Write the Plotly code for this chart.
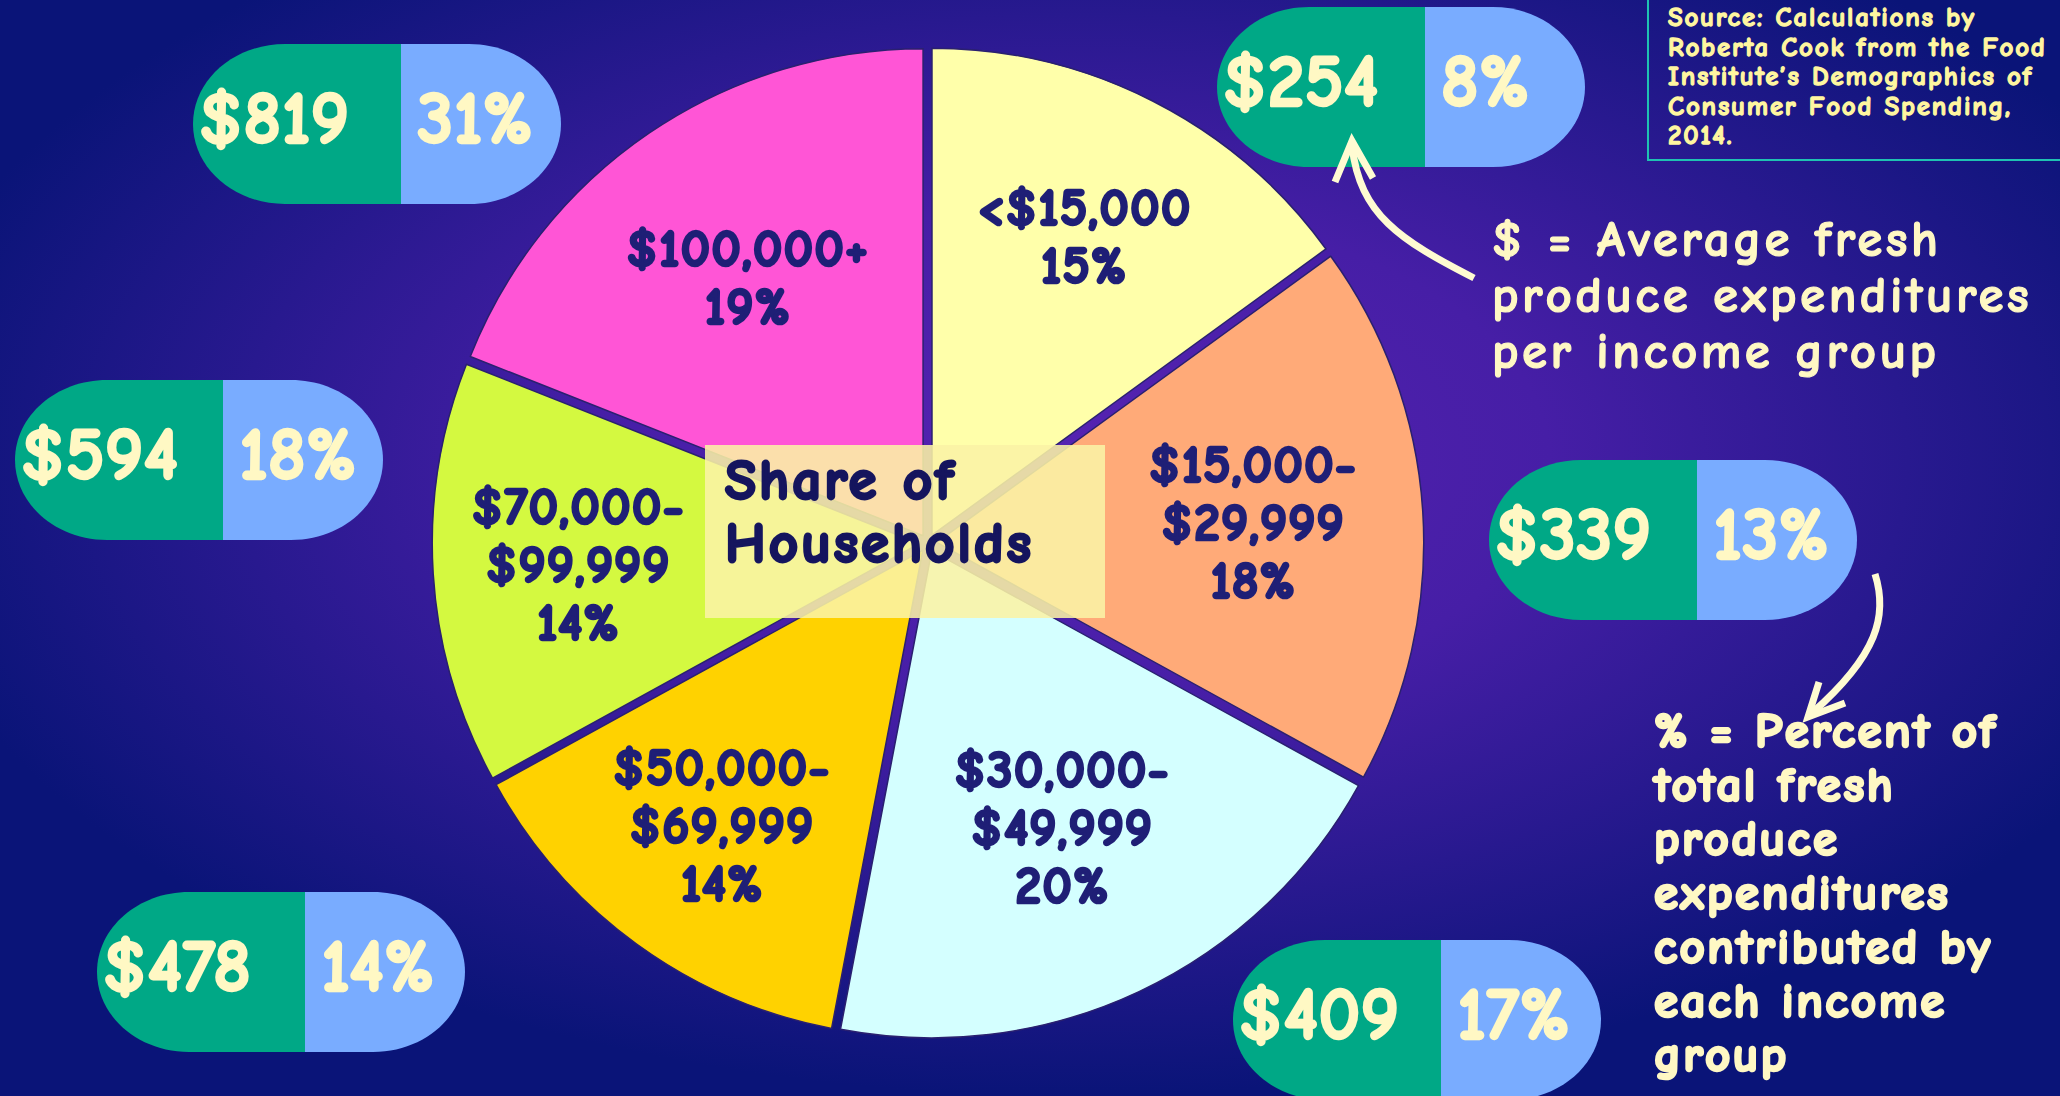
import base64
import plotly.graph_objects as go

# ---------------- data ----------------
income_groups = ["<$15,000", "$15,000-$29,999", "$30,000-$49,999",
                 "$50,000-$69,999", "$70,000-$99,999", "$100,000+"]
slice_lines = [["&lt;$15,000"], ["$15,000-", "$29,999"], ["$30,000-", "$49,999"],
               ["$50,000-", "$69,999"], ["$70,000-", "$99,999"], ["$100,000+"]]
share_households = [15, 18, 20, 14, 14, 19]          # % of households
avg_spend = [254, 339, 409, 478, 594, 819]           # $ fresh produce / household
share_spend = [8, 13, 17, 14, 18, 31]                # % of total fresh produce spend

dollar_note = ["$ = Average fresh", "produce expenditures", "per income group"]
pct_note = ["% = Percent of", "total fresh", "produce", "expenditures",
            "contributed by", "each income", "group"]
source_note = ["Source: Calculations by", "Roberta Cook from the Food",
               "Institute\u2019s Demographics of", "Consumer Food Spending,", "2014."]
center_title = ["Share of", "Households"]

# ---------------- styling / layout ----------------
W, H = 2060, 1096
FONT = "Comic Sans MS, Comic Neue, Noto Sans, sans-serif"
CREAM = "#fff8c4"
NAVY_TXT = "#1f1f76"
slice_colors = ["#ffffaa", "#ffaa78", "#d4ffff", "#ffd200", "#d4f940", "#ff55d6"]

# pill top-left corners (pixels), same order as income_groups
pill_pos = [(1217, 7), (1489, 460), (1233, 940), (97, 892), (15, 380), (193, 44)]
PW, PH, PSPLIT = 368, 160, 208
RX, RY = 92, 80
K = 0.5523


def span_lines(lines, size, color, stroke, ls=0):
    st = (f"font-size:{size}px;stroke:{color};stroke-width:{stroke}px;"
          f"stroke-linejoin:round;letter-spacing:{ls}px")
    return "<br>".join(f"<span style='{st}'>{t}</span>" for t in lines)


# background radial gradient as an SVG image
svg = ('<svg xmlns="http://www.w3.org/2000/svg" width="2060" height="1096" '
       'viewBox="0 0 2060 1096" preserveAspectRatio="none"><defs>'
       '<radialGradient id="g" cx="0.52" cy="0.42" r="0.58">'
       '<stop offset="0" stop-color="#5623b2"/>'
       '<stop offset="0.4" stop-color="#461ea6"/>'
       '<stop offset="1" stop-color="#0a1478"/>'
       '</radialGradient></defs>'
       '<rect x="0" y="0" width="2060" height="1096" fill="url(#g)"/></svg>')
bg_src = "data:image/svg+xml;base64," + base64.b64encode(svg.encode()).decode()

# pie geometry
PCX, PCY, PR, PULL = 928, 543, 487, 0.018
D = 2 * PR * (1 + PULL)

fig = go.Figure()

PIE_SP = 58
fig.add_trace(go.Pie(
    values=share_households,
    labels=income_groups,
    text=[span_lines(l + [f"{v}%"], 52, NAVY_TXT, 2.6, 1)
          for l, v in zip(slice_lines, share_households)],
    textinfo="text",
    textposition="inside",
    insidetextorientation="horizontal",
    textfont=dict(family=FONT, size=PIE_SP / 1.3, color=NAVY_TXT, weight="bold"),
    marker=dict(colors=slice_colors, line=dict(color="#2a2070", width=1.5)),
    pull=[PULL] * 6,
    sort=False,
    direction="clockwise",
    rotation=0,
    hoverinfo="skip",
    showlegend=False,
    domain=dict(x=[(PCX - D / 2) / W, (PCX + D / 2) / W],
                y=[(H - PCY - D / 2) / H, (H - PCY + D / 2) / H]),
))

# pill text (amount and share of spending)
amt_x = [x + 6 for x, y in pill_pos]
pct_x = [x + PSPLIT + 16 for x, y in pill_pos]
mid_y = [y + PH / 2 for x, y in pill_pos]
fig.add_trace(go.Scatter(
    x=amt_x + pct_x, y=mid_y + mid_y, mode="text",
    text=[span_lines([f"${v}"], 74, CREAM, 2.4) for v in avg_spend]
         + [span_lines([f"{v}%"], 74, CREAM, 2.4) for v in share_spend],
    textposition="middle right",
    textfont=dict(family=FONT, size=74, color=CREAM, weight="bold"),
    hoverinfo="skip", showlegend=False, cliponaxis=False,
))

shapes = []
for (L, T) in pill_pos:
    B, S, R, M = T + PH, L + PSPLIT, L + PW, T + PH / 2
    left = (f"M {L+RX},{T} L {S},{T} L {S},{B} L {L+RX},{B} "
            f"C {L+RX-K*RX},{B} {L},{M+K*RY} {L},{M} "
            f"C {L},{M-K*RY} {L+RX-K*RX},{T} {L+RX},{T} Z")
    right = (f"M {S},{T} L {R-RX},{T} "
             f"C {R-RX+K*RX},{T} {R},{M-K*RY} {R},{M} "
             f"C {R},{M+K*RY} {R-RX+K*RX},{B} {R-RX},{B} L {S},{B} Z")
    shapes.append(dict(type="path", path=left, xref="x", yref="y", layer="below",
                       fillcolor="#00a886", line=dict(width=0)))
    shapes.append(dict(type="path", path=right, xref="x", yref="y", layer="below",
                       fillcolor="#79acff", line=dict(width=0)))

# centre label box
shapes.append(dict(type="rect", xref="x", yref="y", x0=705, x1=1105, y0=445, y1=618,
                   fillcolor="rgba(250,243,165,0.88)", line=dict(width=0), layer="above"))
# source box
shapes.append(dict(type="rect", xref="x", yref="y", x0=1648, x1=2075, y0=-10, y1=160,
                   fillcolor="rgba(0,0,0,0)", line=dict(color="#1fc2b2", width=2), layer="above"))
# arrows
ARW = dict(color="#fffbd2", width=7)
shapes.append(dict(type="path", xref="x", yref="y", layer="above", line=ARW,
                   path="M 1474,278 C 1400,240 1360,215 1352,146"))
shapes.append(dict(type="path", xref="x", yref="y", layer="above", line=ARW,
                   path="M 1335,182 L 1352,141 L 1373,178"))
shapes.append(dict(type="path", xref="x", yref="y", layer="above", line=ARW,
                   path="M 1875,574 C 1888,615 1878,655 1812,713"))
shapes.append(dict(type="path", xref="x", yref="y", layer="above", line=ARW,
                   path="M 1819,682 L 1808,717 L 1845,703"))

annotations = []


def block(lines, x, ycenter, spacing, size, color, stroke, ls):
    annotations.append(dict(
        text=span_lines(lines, size, color, stroke, ls), x=x, y=ycenter,
        xref="x", yref="y", xanchor="left", yanchor="middle", align="left",
        showarrow=False,
        font=dict(family=FONT, size=spacing / 1.3, color=color, weight="bold")))


block(center_title, 723, 512, 63, 57, "#15155e", 2.8, 3)
block(dollar_note, 1490, 295, 56, 51, CREAM, 1.2, 3.5)
block(pct_note, 1651, 893, 54, 49, CREAM, 2.6, 2.5)
block(source_note, 1666, 76, 29.5, 26.8, "#fff6a0", 1.3, 1.8)

fig.update_layout(
    width=W, height=H,
    margin=dict(l=0, r=0, t=0, b=0),
    paper_bgcolor="#0a1478",
    plot_bgcolor="rgba(0,0,0,0)",
    xaxis=dict(range=[0, W], visible=False, fixedrange=True, domain=[0, 1]),
    yaxis=dict(range=[H, 0], visible=False, fixedrange=True, domain=[0, 1]),
    images=[dict(source=bg_src, xref="paper", yref="paper", x=0, y=1, sizex=1, sizey=1,
                 xanchor="left", yanchor="top", sizing="stretch", layer="below")],
    shapes=shapes,
    annotations=annotations,
    showlegend=False,
)

fig.write_html("out.html", config={"displayModeBar": False},
               post_script="document.body.style.margin='0px';"
                           "document.body.style.overflow='hidden';")
